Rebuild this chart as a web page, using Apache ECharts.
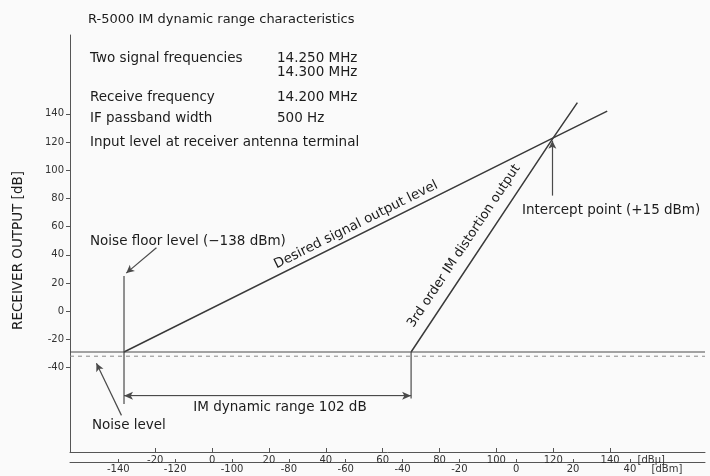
<!DOCTYPE html>
<html>
<head>
<meta charset="utf-8">
<script src="https://cdn.jsdelivr.net/npm/echarts@6/dist/echarts.min.js"></script>
<style>
html, body { margin: 0; padding: 0; background: #fafafa; }
#chart { width: 710px; height: 476px; }
</style>
</head>
<body>
<div id="chart"></div>
<script>
// tick labels
const yTicks = [-40, -20, 0, 20, 40, 60, 80, 100, 120, 140];
const dbuTicks = [-20, 0, 20, 40, 60, 80, 100, 120, 140];
const dbmTicks = [-140, -120, -100, -80, -60, -40, -20, 0, 20, 40];

// lines, x in dBm, y in dB
const desiredSignal = [[-138, -29], [13, 123], [32, 142]];
const imDistortion = [[-37, -29], [13, 123], [21.5, 148]];
const noiseLevel = [[-157, -29], [66.4, -29]];
const noiseLevelDashed = [[-157, -32], [66.4, -32]];
const noiseFloorMark = [[-138, 25], [-138, -66]];
const imStartMark = [[-37, -29], [-37, -62]];
const dynamicRange = [[-138, -60], [-37, -60]];

// annotation arrows [from, to]
const arrows = [
    [[-126.6, 45], [-137.2, 27]],     // noise floor level
    [[-138.9, -74], [-147.7, -37]],   // noise level
    [[12.7, 82], [12.7, 121]]         // intercept point
];

const ink = '#1c1c1c';
const lineColor = '#4a4a4a';
const font = '13.5px "DejaVu Sans"';

const chart = echarts.init(document.getElementById('chart'));

function plain(name, data, extra) {
    return Object.assign({
        name: name,
        type: 'line',
        xAxisIndex: 1,
        data: data,
        symbol: 'none',
        silent: true,
        animation: false,
        lineStyle: { color: lineColor, width: 1.2 }
    }, extra || {});
}

function textEl(text, x, y, opts) {
    opts = opts || {};
    return {
        type: 'text',
        x: x,
        y: y,
        rotation: opts.rotation || 0,
        silent: true,
        style: {
            text: text,
            font: opts.font || font,
            fill: ink,
            align: opts.align || 'left',
            verticalAlign: 'middle',
            textAlign: opts.align || 'left',
            textVerticalAlign: 'middle'
        }
    };
}

const option = {
    backgroundColor: '#fafafa',
    animation: false,
    grid: { left: 70, right: 5, top: 35, bottom: 24 },
    xAxis: [
        {
            type: 'value',
            position: 'bottom',
            min: -50,
            max: 173.4,
            axisLine: { onZero: false, lineStyle: { color: '#555', width: 1 } },
            axisTick: { inside: true, length: 4, customValues: dbuTicks, lineStyle: { color: '#555' } },
            axisLabel: {
                customValues: dbuTicks.concat([154.5]),
                formatter: v => v > 150 ? '[dBμ]' : String(v),
                margin: 3,
                color: '#333',
                fontSize: 10,
                fontFamily: 'DejaVu Sans'
            },
            splitLine: { show: false }
        },
        {
            type: 'value',
            position: 'bottom',
            offset: 10,
            min: -157,
            max: 66.4,
            axisLine: { onZero: false, lineStyle: { color: '#555', width: 1 } },
            axisTick: { inside: true, length: 3, customValues: dbmTicks, lineStyle: { color: '#555' } },
            axisLabel: {
                customValues: dbmTicks.concat([53]),
                formatter: v => v > 50 ? '[dBm]' : String(v),
                margin: 2,
                color: '#333',
                fontSize: 10,
                fontFamily: 'DejaVu Sans'
            },
            splitLine: { show: false }
        }
    ],
    yAxis: {
        type: 'value',
        min: -100,
        max: 196,
        name: 'RECEIVER OUTPUT [dB]',
        nameLocation: 'middle',
        nameGap: 45,
        nameRotate: 90,
        nameTextStyle: { color: ink, fontSize: 13.5, fontFamily: 'DejaVu Sans', padding: [0, 14, 0, 0] },
        axisLine: { show: true, onZero: false, lineStyle: { color: '#555', width: 1 } },
        axisTick: { show: true, length: 4, customValues: yTicks, lineStyle: { color: '#555' } },
        axisLabel: { customValues: yTicks, margin: 6, color: '#333', fontSize: 10, fontFamily: 'DejaVu Sans' },
        splitLine: { show: false }
    },
    series: [
        plain('Desired signal output level', desiredSignal, { lineStyle: { color: '#3a3a3a', width: 1.5 } }),
        plain('3rd order IM distortion output', imDistortion, { lineStyle: { color: '#3a3a3a', width: 1.5 } }),
        plain('Noise level', noiseLevel, {
            markLine: {
                silent: true,
                animation: false,
                symbol: ['none', 'arrow'],
                symbolSize: [6, 8],
                label: { show: false },
                lineStyle: { color: lineColor, width: 1.2, type: 'solid' },
                data: arrows.map(a => [{ coord: a[0] }, { coord: a[1] }])
            }
        }),
        plain('Noise level (dashed)', noiseLevelDashed, { lineStyle: { color: '#8a8a8a', width: 1, type: [4, 4] } }),
        plain('Noise floor', noiseFloorMark),
        plain('IM start', imStartMark),
        plain('IM dynamic range', dynamicRange, {
            lineStyle: { color: lineColor, width: 1 },
            markLine: {
                silent: true,
                animation: false,
                symbol: ['arrow', 'arrow'],
                symbolSize: [6, 9],
                label: { show: false },
                lineStyle: { color: lineColor, width: 1, type: 'solid' },
                data: [[{ coord: dynamicRange[0] }, { coord: dynamicRange[1] }]]
            }
        })
    ],
    graphic: [
        textEl('R-5000 IM dynamic range characteristics', 88, 20, { font: '13px "DejaVu Sans"' }),
        textEl('Two signal frequencies', 90, 58),
        textEl('14.250 MHz', 277, 58),
        textEl('14.300 MHz', 277, 72),
        textEl('Receive frequency', 90, 97),
        textEl('14.200 MHz', 277, 97),
        textEl('IF passband width', 90, 118),
        textEl('500 Hz', 277, 118),
        textEl('Input level at receiver antenna terminal', 90, 142),
        textEl('Noise floor level (−138 dBm)', 90, 241),
        textEl('Desired signal output level', 356, 225, { align: 'center', rotation: Math.atan(0.5) }),
        textEl('3rd order IM distortion output', 464, 246, { align: 'center', rotation: Math.atan(1.5), font: '13px "DejaVu Sans"' }),
        textEl('Intercept point (+15 dBm)', 522, 210),
        textEl('IM dynamic range 102 dB', 280, 407, { align: 'center' }),
        textEl('Noise level', 92, 425)
    ]
};

chart.setOption(option);
window.addEventListener('resize', () => chart.resize());
</script>
</body>
</html>
